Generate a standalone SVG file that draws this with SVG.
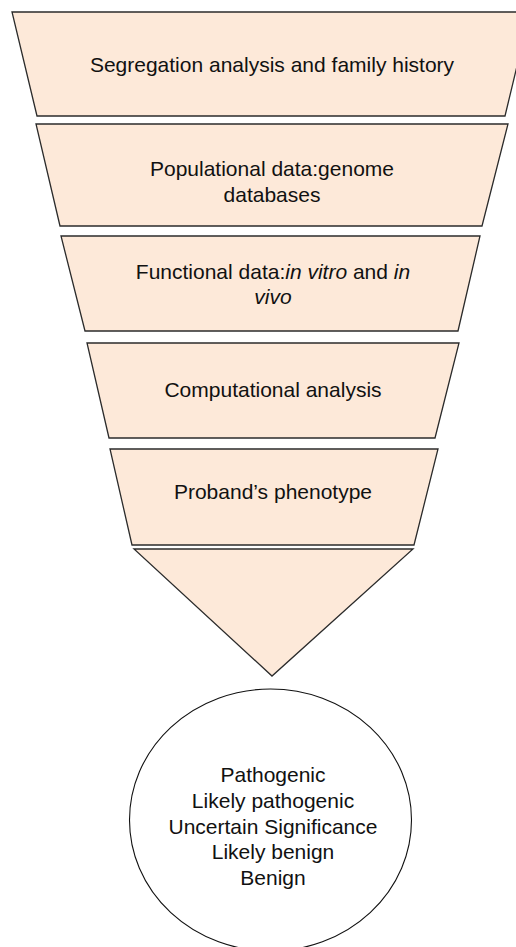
<svg xmlns="http://www.w3.org/2000/svg" width="516" height="947" viewBox="0 0 516 947">
<style>
.stage{fill:#fde9d9;stroke:#2b2b2b;stroke-width:1.3;stroke-linejoin:miter}
.out{fill:#ffffff;stroke:#111111;stroke-width:1.1}
text{font-family:"Liberation Sans",Arial,Helvetica,sans-serif;font-size:21px;fill:#111111;text-anchor:middle}
.it{font-style:italic}
</style>
<rect width="516" height="947" fill="#ffffff"/>
<g id="connectors"/>
<g id="segregation">
<polygon class="stage" points="12,12 530,12 505,116 37,116"/>
<text x="272" y="72">Segregation analysis and family history</text>
</g>
<g id="populational">
<polygon class="stage" points="36,124 508,124 482,226 60,226"/>
<text x="272" y="176">Populational data:genome</text>
<text x="272" y="202">databases</text>
</g>
<g id="functional">
<polygon class="stage" points="61,236 480,236 458,331 85,331"/>
<text x="273" y="279">Functional data:<tspan class="it">in vitro</tspan> and <tspan class="it">in</tspan></text>
<text x="273" y="304" class="it">vivo</text>
</g>
<g id="computational">
<polygon class="stage" points="87,343 459,343 435,438 109,438"/>
<text x="273" y="397">Computational analysis</text>
</g>
<g id="phenotype">
<polygon class="stage" points="110,449 438,449 414,545 132,545"/>
<text x="273" y="499">Proband’s phenotype</text>
</g>
<g id="funnel-tip">
<polygon class="stage" points="134,549 413,549 272,676"/>
</g>
<g id="classification">
<ellipse class="out" cx="270.5" cy="820" rx="141" ry="131"/>
<text x="273" y="782">Pathogenic</text>
<text x="273" y="808">Likely pathogenic</text>
<text x="273" y="834">Uncertain Significance</text>
<text x="273" y="859">Likely benign</text>
<text x="273" y="885">Benign</text>
</g>
</svg>
